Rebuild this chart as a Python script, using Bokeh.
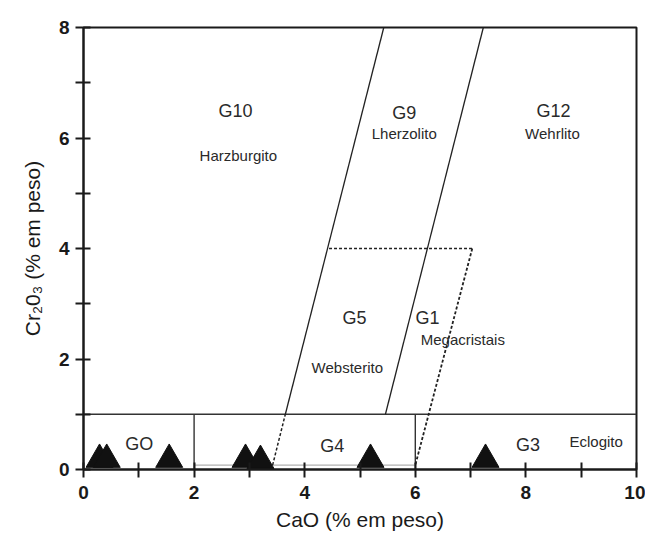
from bokeh.plotting import figure
from bokeh.models import Range1d, FixedTicker, ColumnDataSource
from bokeh.core.properties import value
from bokeh.embed import file_html
from bokeh.resources import INLINE

# ---- data ----
# garnet samples (CaO wt%, Cr2O3 wt%)
sample_cao = [0.29, 0.42, 1.55, 2.93, 3.20, 5.19, 7.27]
sample_cr2o3 = [0.18, 0.18, 0.18, 0.18, 0.16, 0.18, 0.18]

# field boundaries (CaO, Cr2O3)
left_solid_x = [3.65, 5.43]
left_solid_y = [1.0, 8.0]
left_dot_x = [3.42, 3.65]
left_dot_y = [0.08, 1.0]
right_solid_x = [5.46, 7.23]
right_solid_y = [1.0, 8.0]
g1_top_x = [4.44, 7.03]
g1_top_y = [4.0, 4.0]
g1_side_x = [7.03, 6.0]
g1_side_y = [4.0, 0.08]
low_h_x = [0.0, 10.0]
low_h_y = [1.0, 1.0]
div_x = [2.0, 6.0]
div_y0 = [0.0, 0.0]
div_y1 = [1.0, 1.0]
g4_base_x = [2.0, 6.0]
g4_base_y = [0.08, 0.08]

# field labels
group_names = ["G10", "G9", "G12", "G5", "G1", "GO", "G4", "G3"]
group_x = [2.75, 5.80, 8.50, 4.90, 6.22, 1.01, 4.50, 8.04]
group_y = [6.48, 6.46, 6.48, 2.75, 2.75, 0.47, 0.43, 0.45]
rock_names = ["Harzburgito", "Lherzolito", "Wehrlito", "Websterito", "Megacristais", "Eclogito"]
rock_x = [2.80, 5.80, 8.48, 4.77, 6.86, 9.27]
rock_y = [5.68, 6.08, 6.08, 1.85, 2.35, 0.50]

x_ticks = list(range(0, 11))
y_ticks = list(range(0, 9))

FONT = "Liberation Sans"

p = figure(width=645, height=537, output_backend="svg", toolbar_location=None,
           x_range=Range1d(0, 10), y_range=Range1d(0, 8),
           min_border_left=83, min_border_right=9, min_border_top=27, min_border_bottom=68)
p.grid.visible = False
p.outline_line_color = "#1a1a1a"
p.outline_line_width = 2

for ax in (p.xaxis[0], p.yaxis[0]):
    ax.axis_line_width = 2
    ax.axis_line_color = "#1a1a1a"
    ax.major_tick_line_width = 2
    ax.major_tick_line_color = "#1a1a1a"
    ax.major_tick_in = 7
    ax.major_tick_out = 8
    ax.minor_tick_line_color = None
    ax.major_label_text_font = FONT
    ax.major_label_text_font_style = "bold"
    ax.major_label_text_font_size = "19px"
    ax.major_label_text_color = "#1a1a1a"
    ax.axis_label_text_font = FONT
    ax.axis_label_text_font_style = "normal"
    ax.axis_label_text_font_size = "21px"
    ax.axis_label_text_color = "#1a1a1a"

p.xaxis.ticker = FixedTicker(ticks=x_ticks)
p.yaxis.ticker = FixedTicker(ticks=y_ticks)
p.xaxis.major_label_overrides = {t: ("" if t % 2 else str(t)) for t in x_ticks}
p.yaxis.major_label_overrides = {t: ("" if t % 2 else str(t)) for t in y_ticks}
p.xaxis.axis_label = "CaO (% em peso)"
p.yaxis.axis_label = "Cr₂0₃ (% em peso)"
p.xaxis.major_label_standoff = 8
p.xaxis.axis_label_standoff = 6
p.yaxis.major_label_standoff = 6
p.yaxis.axis_label_standoff = 12

LC = "#222222"
p.line(low_h_x, low_h_y, line_color="#333333", line_width=1.6)
p.line(g4_base_x, g4_base_y, line_color="#b0b0b0", line_width=1.2)
for xv in div_x:
    p.line([xv, xv], [div_y0[0], div_y1[0]], line_color="#333333", line_width=1.4)
p.line(left_solid_x, left_solid_y, line_color=LC, line_width=1.3)
p.line(right_solid_x, right_solid_y, line_color=LC, line_width=1.3)
p.line(left_dot_x, left_dot_y, line_color=LC, line_width=1.5, line_dash="3 2")
p.line(g1_top_x, g1_top_y, line_color=LC, line_width=1.5, line_dash="3 2")
p.line(g1_side_x, g1_side_y, line_color=LC, line_width=1.8, line_dash="3 2")

src = ColumnDataSource(dict(x=sample_cao, y=sample_cr2o3))
p.scatter("x", "y", source=src, marker="triangle", size=27,
          fill_color="#111111", line_color="#111111")

p.text(group_x, group_y, text=group_names, text_font=value(FONT), text_font_size="18px",
       text_align="center", text_baseline="middle", text_color="#2a2a2a")
p.text(rock_x, rock_y, text=rock_names, text_font=value(FONT), text_font_size="15px",
       text_align="center", text_baseline="middle", text_color="#2a2a2a")

open("out.html", "w").write(file_html(p, INLINE))
